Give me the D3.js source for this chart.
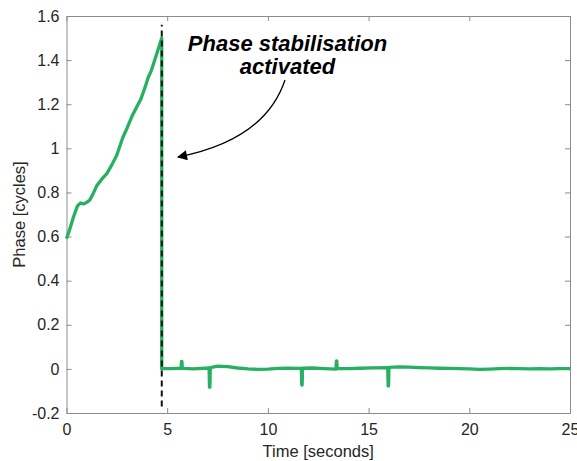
<!DOCTYPE html>
<html>
<head>
<meta charset="utf-8">
<script src="https://cdn.jsdelivr.net/npm/d3@7"></script>
<style>
  body { margin: 0; background: #fff; }
  text { font-family: "Liberation Sans", Arial, sans-serif; }
</style>
</head>
<body>
<svg id="chart"></svg>
<script>
// data
const timeSec = [
  0, 0.15, 0.35, 0.55, 0.7, 0.85, 1.0, 1.15, 1.3, 1.5, 1.75, 2.0, 2.25, 2.5,
  2.8, 3.0, 3.25, 3.5, 3.7, 3.95, 4.05, 4.2, 4.45, 4.73,
  4.73, 4.8, 5.2, 5.69, 5.71, 5.73, 5.75, 6.3, 7.08, 7.1, 7.12, 7.14, 7.5, 8.0,
  8.5, 9.0, 9.5, 10.0, 10.5, 11.0, 11.66, 11.68, 11.7, 11.72, 12.2, 12.8,
  13.38, 13.4, 13.42, 13.44, 14.0, 14.6, 15.2, 15.95, 15.97, 15.99, 16.01,
  16.5, 17.0, 17.5, 18.0, 18.5, 19.0, 19.5, 20.0, 20.5, 21.0, 21.5, 22.0,
  22.5, 23.0, 23.5, 24.0, 24.5, 25.0
];
const phaseCycles = [
  0.59, 0.63, 0.69, 0.74, 0.752, 0.748, 0.755, 0.765, 0.79, 0.83, 0.86, 0.885,
  0.925, 0.97, 1.05, 1.09, 1.145, 1.19, 1.225, 1.29, 1.32, 1.35, 1.42, 1.5,
  0.0, 0.002, 0.001, 0.003, 0.034, 0.034, 0.002, 0.0, 0.004, -0.083, -0.083, 0.006,
  0.012, 0.01, 0.004, 0.0, -0.002, -0.001, 0.002, 0.003, 0.002, -0.073, -0.073,
  0.003, 0.004, 0.001, -0.001, 0.036, 0.036, 0.002, 0.001, 0.003, 0.005,
  0.006, -0.077, -0.077, 0.007, 0.009, 0.008, 0.006, 0.005, 0.003, 0.002,
  0.001, 0.0, -0.002, -0.001, 0.001, 0.002, 0.001, 0.0, 0.001, 0.0, 0.001, 0.001
];
const xTicks = [0, 5, 10, 15, 20, 25];
const yTicks = [-0.2, 0, 0.2, 0.4, 0.6, 0.8, 1, 1.2, 1.4, 1.6];
const markerTime = 4.73;
const markerRange = [-0.17, 1.56];
const annotationLines = ["Phase stabilisation", "activated"];

const width = 577, height = 461;
const margin = { top: 16, right: 7, bottom: 48, left: 66.5 };

const svg = d3.select("#chart").attr("width", width).attr("height", height);

const x = d3.scaleLinear().domain([0, 25]).range([margin.left, width - margin.right]);
const y = d3.scaleLinear().domain([-0.2, 1.6]).range([height - margin.bottom, margin.top]);

const axisColor = "#8c8c8c";
const labelColor = "#262626";

// axes with inward ticks (box on all sides)
function styleAxis(g) {
  g.select(".domain").attr("stroke", axisColor);
  g.selectAll(".tick line").attr("stroke", axisColor);
  g.selectAll(".tick text").attr("fill", labelColor).style("font-size", "16px");
}
svg.append("g")
  .attr("transform", "translate(0," + y(-0.2) + ")")
  .call(d3.axisBottom(x).tickValues(xTicks).tickSizeInner(-5).tickSizeOuter(0).tickPadding(11))
  .call(styleAxis);
svg.append("g")
  .attr("transform", "translate(0," + y(1.6) + ")")
  .call(d3.axisTop(x).tickValues(xTicks).tickSizeInner(-5).tickSizeOuter(0).tickFormat(""))
  .call(styleAxis);
svg.append("g")
  .attr("transform", "translate(" + x(0) + ",0)")
  .call(d3.axisLeft(y).tickValues(yTicks).tickSizeInner(-5).tickSizeOuter(0).tickPadding(7)
    .tickFormat(d => String(+d.toFixed(1))))
  .call(styleAxis);
svg.append("g")
  .attr("transform", "translate(" + x(25) + ",0)")
  .call(d3.axisRight(y).tickValues(yTicks).tickSizeInner(-5).tickSizeOuter(0).tickFormat(""))
  .call(styleAxis);

// data line
const pts = timeSec.map((t, i) => [t, phaseCycles[i]]);
svg.append("path")
  .datum(pts)
  .attr("fill", "none")
  .attr("stroke", "#27b062")
  .attr("stroke-width", 3.3)
  .attr("stroke-linejoin", "round")
  .attr("d", d3.line().x(d => x(d[0])).y(d => y(d[1])));

// dashed marker
svg.append("line")
  .attr("x1", x(markerTime)).attr("x2", x(markerTime))
  .attr("y1", y(markerRange[0])).attr("y2", y(markerRange[1]))
  .attr("stroke", "#111")
  .attr("stroke-width", 2)
  .attr("stroke-dasharray", "6,4");

// annotation
const ann = svg.append("text")
  .attr("text-anchor", "middle")
  .attr("font-weight", "bold")
  .attr("font-style", "italic")
  .style("font-size", "22px")
  .attr("fill", "#000");
ann.selectAll("tspan")
  .data(annotationLines)
  .join("tspan")
  .attr("x", 287.5)
  .attr("y", (d, i) => 51 + i * 23)
  .text(d => d);

svg.append("defs").append("marker")
  .attr("id", "arrowHead")
  .attr("viewBox", "0 0 10 10")
  .attr("refX", 9).attr("refY", 5)
  .attr("markerWidth", 12).attr("markerHeight", 10)
  .attr("markerUnits", "userSpaceOnUse")
  .attr("orient", "auto")
  .append("path")
  .attr("d", "M0,0 L10,5 L0,10 z")
  .attr("fill", "#000");

svg.append("path")
  .attr("d", "M285,80 Q265,140 178,157")
  .attr("fill", "none")
  .attr("stroke", "#000")
  .attr("stroke-width", 1.3)
  .attr("marker-end", "url(#arrowHead)");

// axis labels
svg.append("text")
  .attr("x", (x(0) + x(25)) / 2)
  .attr("y", 457)
  .attr("text-anchor", "middle")
  .attr("fill", labelColor)
  .style("font-size", "16.5px")
  .text("Time [seconds]");
svg.append("text")
  .attr("transform", "translate(25," + (y(-0.2) + y(1.6)) / 2 + ") rotate(-90)")
  .attr("text-anchor", "middle")
  .attr("fill", labelColor)
  .style("font-size", "16.5px")
  .text("Phase [cycles]");
</script>
</body>
</html>
